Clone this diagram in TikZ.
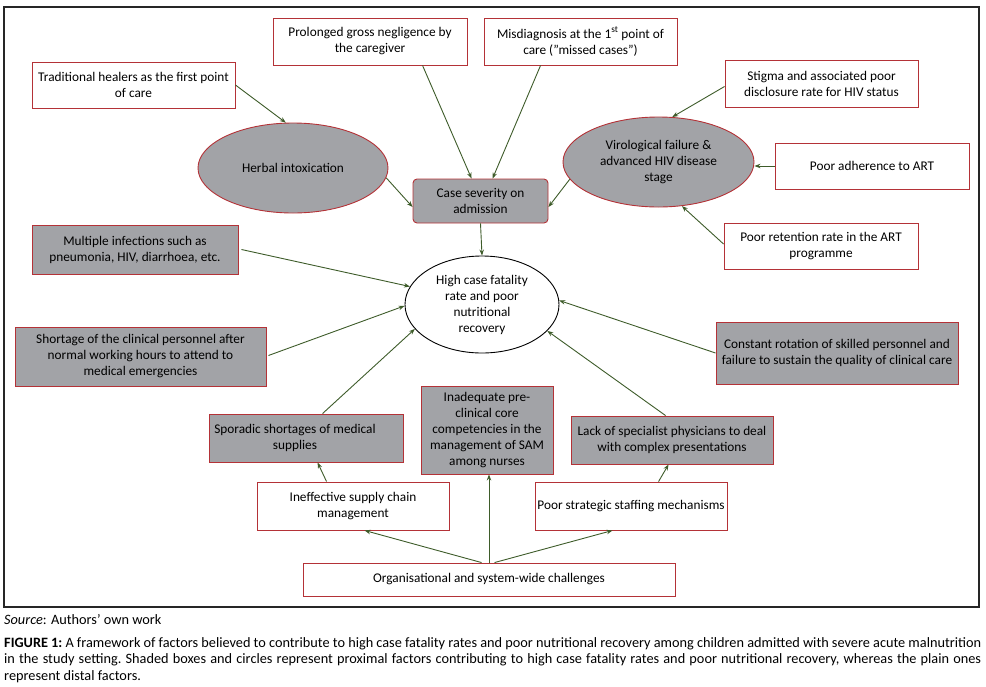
\documentclass[tikz,border=0pt]{standalone}
\usepackage{fontspec}
\setmainfont{Carlito}
\usetikzlibrary{shapes.geometric,calc,arrows.meta}
\definecolor{boxgray}{RGB}{162,163,167}
\definecolor{boxred}{RGB}{180,50,55}
\definecolor{arrgreen}{RGB}{62,92,42}
\newcommand\dfont{\fontsize{13.3}{16}\selectfont}
\newcommand\cfont{\fontsize{14.3}{16.5}\selectfont}
\tikzset{
  plainbox/.style={draw=boxred, line width=0.9pt, fill=white, inner sep=0pt, align=center, font=\dfont},
  shadebox/.style={plainbox, fill=boxgray},
  shadeell/.style={ellipse, draw=boxred, line width=0.9pt, fill=boxgray, inner sep=0pt, align=center, font=\dfont},
  mainell/.style={ellipse, draw=black, line width=0.9pt, fill=white, inner sep=0pt, align=center, font=\dfont},
  conn/.style={draw=arrgreen, line width=0.9pt, -{Stealth[length=6pt,width=4.5pt]}},
  caption/.style={inner sep=0pt, anchor=north west, font=\cfont}
}
\begin{document}
\begin{tikzpicture}[x=1pt,y=-1pt]
\useasboundingbox (0,0) rectangle (986,686);
\draw[line width=1.1pt, black!85] (4,7) rectangle (979,607);

% boxes
\node[plainbox, minimum width=203pt, minimum height=46pt] (trad) at (133.5,85) {Traditional healers as the first point\\of care};
\node[plainbox, minimum width=194pt, minimum height=47pt] (prol) at (370,41.5) {Prolonged gross negligence by\\the caregiver};
\node[plainbox, minimum width=193pt, minimum height=47pt] (misd) at (580.5,41.5) {Misdiagnosis at the 1\textsuperscript{st} point of\\care (”missed cases”)};
\node[shadebox, rounded corners=4pt, minimum width=135pt, minimum height=44pt] (case) at (480.5,201) {Case severity on\\admission};
\node[plainbox, minimum width=193pt, minimum height=47pt] (stig) at (821.5,83.5) {Stigma and associated poor\\disclosure rate for HIV status};
\node[plainbox, minimum width=194pt, minimum height=46pt] (adh) at (872,166) {Poor adherence to ART};
\node[plainbox, minimum width=194pt, minimum height=46pt] (ret) at (821,246) {Poor retention rate in the ART\\programme};
\node[shadebox, minimum width=206pt, minimum height=49pt] (mult) at (135,249.5) {Multiple infections such as\\pneumonia, HIV, diarrhoea, etc.};
\node[shadebox, minimum width=251pt, minimum height=59pt] (short) at (140.5,356.5) {Shortage of the clinical personnel after\\normal working hours to attend to\\medical emergencies};
\node[shadebox, minimum width=242pt, minimum height=62pt] (rot) at (837,353) {Constant rotation of skilled personnel and\\failure to sustain the quality of clinical care};
\node[shadebox, minimum width=194pt, minimum height=48pt,
  label={[xshift=-11pt,align=center,font=\dfont]center:Sporadic shortages of medical\\supplies}] (spor) at (306,438) {};
\node[shadebox, minimum width=132pt, minimum height=88pt] (inad) at (487,430) {Inadequate pre-\\clinical core\\competencies in the\\management of SAM\\among nurses};
\node[shadebox, minimum width=202pt, minimum height=48pt] (lack) at (672,440) {Lack of specialist physicians to deal\\with complex presentations};
\node[plainbox, minimum width=192pt, minimum height=48pt] (ineff) at (353,506) {Ineffective supply chain\\management};
\node[plainbox, minimum width=192pt, minimum height=48pt] (strat) at (631,506) {Poor strategic staffing mechanisms};
\node[plainbox, minimum width=372pt, minimum height=33pt] (org) at (489,579.5) {Organisational and system-wide challenges};

% ellipses
\node[shadeell, minimum width=190pt, minimum height=90pt] (herb) at (293,168) {Herbal intoxication};
\node[shadeell, minimum width=191pt, minimum height=90pt] (viro) at (658.5,162) {Virological failure \&\\advanced HIV disease\\stage};
\node[mainell, minimum width=154pt, minimum height=97pt] (high) at (482,304.5) {High case fatality\\rate and poor\\nutritional\\recovery};

% connectors
\draw[conn] (trad.east) -- (herb.99);
\draw[conn] ($(prol.south west)+(150,0)$) -- ($(case.north west)+(59,0)$);
\draw[conn] ($(misd.south west)+(57,0)$) -- ($(case.north west)+(80,0)$);
\draw[conn] (herb.-6) -- ($(case.west)+(0,6)$);
\draw[conn] (viro.191) -- ($(case.east)+(0,6)$);
\draw[conn] ($(stig.west)+(0,3)$) -- (viro.73);
\draw[conn] (adh.west) -- (viro.east |- adh.west);
\draw[conn] ($(ret.west)+(0,-2)$) -- (viro.-62);
\draw[conn] (case.south) -- (high.north);
\draw[conn] ($(mult.east)+(3,0)$) -- (high.166);
\draw[conn] ($(short.east)+(2,-1)$) -- (high.181);
\draw[conn] ($(spor.north west)+(114,0)$) -- (high.200);
\draw[conn] (rot.west) -- (high.3);
\draw[conn] ($(lack.north west)+(95,0)$) -- (high.-22);
\draw[conn] ($(ineff.north west)+(70,0)$) -- ($(spor.south west)+(109,0)$);
\draw[conn] ($(org.north west)+(179,0)$) -- ($(ineff.south west)+(108,0)$);
\draw[conn] (org.north) -- (org.north |- inad.south);
\draw[conn] ($(org.north west)+(192,0)$) -- ($(strat.south west)+(78,0)$);
\draw[conn] ($(strat.north west)+(124,0)$) -- ($(lack.south west)+(98,0)$);

% caption
\node[caption] (src) at (4,614) {\textit{Source}: Authors’ own work};
\node[caption] (cap) at (4,637) {\parbox[t]{977pt}{\cfont\frenchspacing\textbf{FIGURE 1:} A framework of factors believed to contribute to high case fatality rates and poor nutritional recovery among children admitted with severe acute malnutrition in the study setting. Shaded boxes and circles represent proximal factors contributing to high case fatality rates and poor nutritional recovery, whereas the plain ones represent distal factors.}};
\end{tikzpicture}
\end{document}
